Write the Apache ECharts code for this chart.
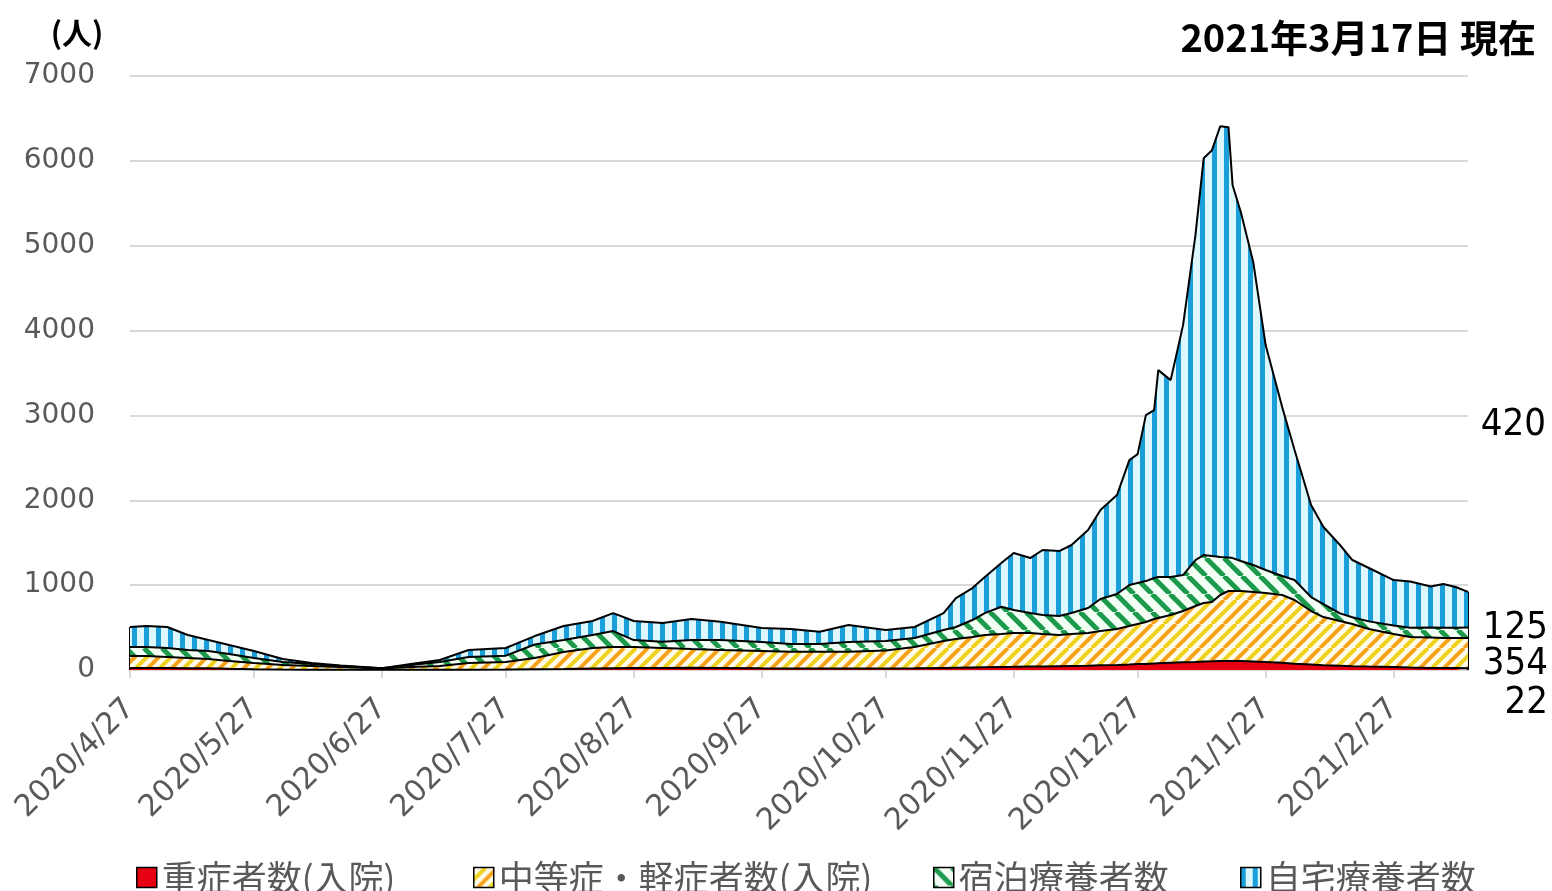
<!DOCTYPE html>
<html><head><meta charset="utf-8">
<script src="https://cdn.jsdelivr.net/npm/echarts@6/dist/echarts.min.js"></script>
<style>html,body{margin:0;padding:0;background:#fff}#c{width:1552px;height:891px}</style>
</head><body><div id="c"></div><script>
const dates = ['2020/4/27','2020/5/1','2020/5/6','2020/5/11','2020/5/16','2020/5/21','2020/5/27','2020/6/3','2020/6/10','2020/6/17',
'2020/6/27','2020/7/4','2020/7/11','2020/7/18','2020/7/27','2020/8/3','2020/8/10','2020/8/17','2020/8/22','2020/8/27',
'2020/9/3','2020/9/10','2020/9/17','2020/9/27','2020/10/4','2020/10/11','2020/10/18','2020/10/27','2020/11/3','2020/11/10',
'2020/11/13','2020/11/17','2020/11/20','2020/11/24','2020/11/27','2020/12/1','2020/12/4','2020/12/8','2020/12/11','2020/12/15',
'2020/12/18','2020/12/22','2020/12/25','2020/12/27','2020/12/29','2020/12/31','2021/1/1','2021/1/4','2021/1/7','2021/1/10',
'2021/1/12','2021/1/14','2021/1/16','2021/1/18','2021/1/19','2021/1/21','2021/1/24','2021/1/27','2021/1/31','2021/2/3',
'2021/2/7','2021/2/10','2021/2/14','2021/2/17','2021/2/21','2021/2/27','2021/3/3','2021/3/8','2021/3/11','2021/3/14','2021/3/17'];
const severe = [25,25,24,22,20,15,10,6,4,3, 2,2,3,4,5,8,12,18,22,24, 25,26,24,20,18,18,18,18,20,25,
27,30,32,35,37,40,42,45,47,50, 55,60,65,70,72,78,80,85,90,95, 100,102,105,105,105,105,100,95,85,75, 65,55,50,45,40,35,30,25,24,23,22];
const moderate = [140,140,129,119,110,91,72,53,43,32, 15,33,44,78,89,133,200,241,249,247, 234,221,212,204,198,198,198,212,251,317,
338,359,380,389,399,396,382,367,377,386, 404,423,453,472,493,523,533,563,605,659, 689,699,779,826,826,826,819,812,799,750,
630,569,527,497,443,389,359,358,353,354,354];
const hotel = [106,106,106,95,94,82,59,35,24,12, 3,24,47,70,75,160,141,153,188,82, 74,106,117,106,90,90,114,112,106,129,
142,200,259,322,271,235,224,224,247,294, 377,412,483,483,483,483,483,448,424,542, 566,542,447,394,388,353,318,271,223,235,
165,153,90,80,90,100,110,118,120,122,125];
const home = [236,247,248,176,129,107,83,36,11,5, 2,12,24,84,90,99,165,165,212,224, 221,248,216,165,177,145,200,129,130,200,
341,377,425,514,671,648,766,766,802,919, 1049,1167,1473,1519,1956,1979,2438,2320,2945,3828, 4676,4783,5077,5072,4394,4111,3569,2651,1991,1532,
1084,908,806,674,629,536,544,483,516,479,420];
const seriesNames = ['重症者数(入院)','中等症・軽症者数(入院)','宿泊療養者数','自宅療養者数'];
const tickLabels = ['2020/4/27','2020/5/27','2020/6/27','2020/7/27','2020/8/27','2020/9/27','2020/10/27','2020/11/27','2020/12/27','2021/1/27','2021/2/27'];
const latestLabels = ['22','354','125','420'];
const titleText = '2021年3月17日 現在';
const unitText = '(人)';

function toTime(s){const p=s.split('/').map(Number);return new Date(p[0],p[1]-1,p[2]).getTime();}
const t0 = toTime(dates[0]);
const tEnd = toTime(dates[dates.length-1]);
function dayOf(s){return Math.round((toTime(s)-t0)/86400000);}

function canvasOf(w,h){const c=document.createElement('canvas');c.width=w;c.height=h;return c;}
function bluePattern(){const c=canvasOf(12,12),g=c.getContext('2d');g.fillStyle='#DCF7FE';g.fillRect(0,0,12,12);g.fillStyle='#1A9FDB';g.fillRect(0,0,5,12);return {image:c,repeat:'repeat'};}
function greenPattern(){const S=18,c=canvasOf(S,S),g=c.getContext('2d');g.fillStyle='#F3FFF5';g.fillRect(0,0,S,S);g.strokeStyle='#1B9A4C';g.lineWidth=5;
  for(const k of [-1,0,1]){g.beginPath();g.moveTo(k*S,0);g.lineTo(k*S+S,S);g.stroke();}return {image:c,repeat:'repeat'};}
function orangePattern(){const S=24,c=canvasOf(S,S),g=c.getContext('2d');g.fillStyle='#FFFCEB';g.fillRect(0,0,S,S);g.lineWidth=4;
  const xs=[-24,-12,0,12,24];xs.forEach((x0,i)=>{g.strokeStyle=(i%2===0)?'#F7A21B':'#F0D21C';g.beginPath();g.moveTo(x0,S);g.lineTo(x0+S,0);g.stroke();});
  return {image:c,repeat:'repeat'};}

const fills = ['#E60012', orangePattern(), greenPattern(), bluePattern()];
const values = [severe, moderate, hotel, home];
const totalFirst = values.reduce((s,a)=>s+a[0],0);
const totalLast = values.reduce((s,a)=>s+a[a.length-1],0);

const chart = echarts.init(document.getElementById('c'));
const tickDays = tickLabels.map(dayOf);
const lastDay = dayOf(dates[dates.length-1]);
const legendLefts = [131, 468, 928, 1235];
const numFont = '38px "Liberation Sans Narrow", "DejaVu Sans Condensed", "Liberation Sans", sans-serif';
const option = {
  animation:false,
  backgroundColor:'#fff',
  grid:{left:130,right:84,top:76,bottom:221},
  legend: seriesNames.map((n,i)=>({left:legendLefts[i],top:855,icon:'rect',itemWidth:20,itemHeight:20,itemGap:0,
    itemStyle:{borderColor:'#000',borderWidth:1.5},
    textStyle:{fontSize:35,color:'#595959',fontFamily:'Noto Sans CJK JP'},data:[n]})),
  xAxis:[
    {type:'time',min:t0,max:tEnd,
      axisLine:{lineStyle:{color:'#d9d9d9',width:2}},axisTick:{show:false},axisLabel:{show:false},splitLine:{show:false}},
    {type:'value',min:0,max:lastDay,position:'bottom',
      axisLine:{show:false},
      axisTick:{show:true,length:8,lineStyle:{color:'#d9d9d9',width:2},customValues:tickDays},
      axisLabel:{customValues:tickDays,formatter:v=>{const i=tickDays.indexOf(Math.round(v));return i>=0?tickLabels[i]:'';},
        rotate:45,color:'#595959',fontSize:30,fontFamily:'DejaVu Sans',margin:34},
      splitLine:{show:false}}
  ],
  yAxis:{type:'value',min:0,max:7000,interval:1000,axisLine:{show:false},axisTick:{show:false},
    axisLabel:{color:'#595959',fontSize:28,fontFamily:'DejaVu Sans',margin:35,formatter:v=>String(v)},
    splitLine:{lineStyle:{color:'#d9d9d9',width:2}}},
  graphic:[
    {type:'text',x:77,y:33,style:{text:unitText,font:'bold 30px "Noto Sans CJK JP"',fill:'#000',align:'center',verticalAlign:'middle'}},
    {type:'text',x:1536,y:38,style:{text:titleText,font:'bold 38px "Noto Sans CJK JP"',fill:'#000',align:'right',verticalAlign:'middle'}},
    {type:'text',x:1546,y:425,style:{text:latestLabels[3],font:numFont,fill:'#000',align:'right',verticalAlign:'middle'}},
    {type:'text',x:1548,y:628,style:{text:latestLabels[2],font:numFont,fill:'#000',align:'right',verticalAlign:'middle'}},
    {type:'text',x:1548,y:664,style:{text:latestLabels[1],font:numFont,fill:'#000',align:'right',verticalAlign:'middle'}},
    {type:'text',x:1548,y:703,style:{text:latestLabels[0],font:numFont,fill:'#000',align:'right',verticalAlign:'middle'}}
  ],
  series: seriesNames.map((name,k)=>{
    const s = {
      name,type:'line',stack:'total',symbol:'none',showSymbol:false,xAxisIndex:0,
      data:dates.map((d,i)=>[toTime(d),values[k][i]]),
      lineStyle:{color:'#000',width:2},
      itemStyle:{color:fills[k]},
      areaStyle:{color:fills[k],opacity:1},
      emphasis:{disabled:true},
      z:10-k
    };
    if(k===3){
      s.markLine={silent:true,symbol:'none',label:{show:false},lineStyle:{color:'#000',width:2,type:'solid'},
        data:[[{coord:[t0,0]},{coord:[t0,totalFirst]}],[{coord:[tEnd,0]},{coord:[tEnd,totalLast]}]]};
    }
    return s;
  })
};
chart.setOption(option);
</script></body></html>
